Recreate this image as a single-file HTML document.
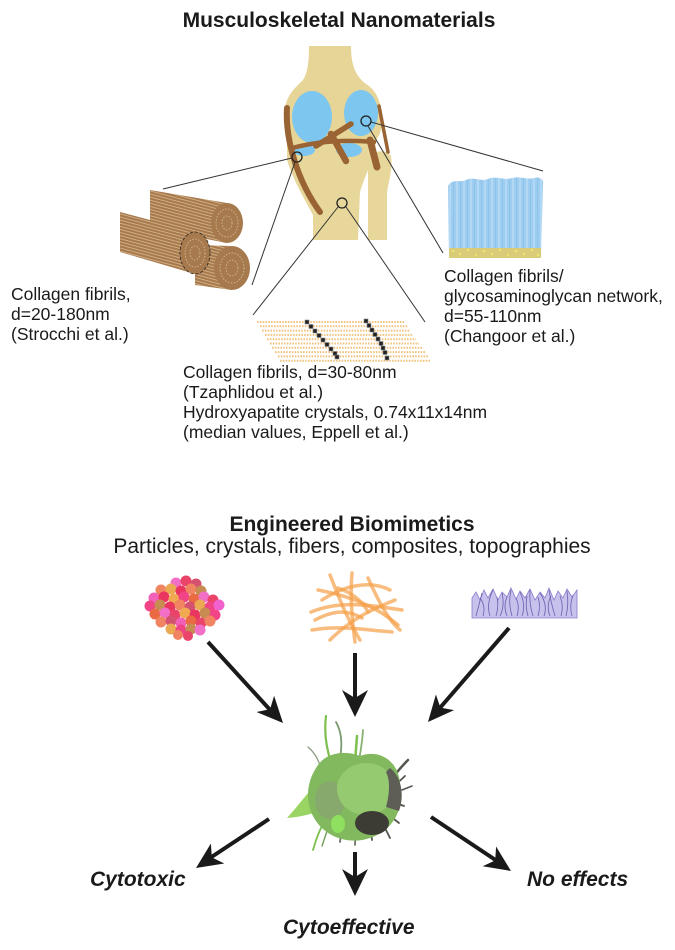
<!DOCTYPE html>
<html>
<head>
<meta charset="utf-8">
<style>
html,body{margin:0;padding:0;background:#fff;}
svg{display:block;}
text{font-family:"Liberation Sans",Arial,sans-serif;fill:#1a1a1a;}
.t{font-size:17.5px;}
.b{font-weight:bold;font-size:21px;}
.bi{font-weight:bold;font-style:italic;font-size:21px;}
</style>
</head>
<body>
<svg width="675" height="950" viewBox="0 0 675 950" xmlns="http://www.w3.org/2000/svg">
<defs>
  <pattern id="fib" patternUnits="userSpaceOnUse" width="12" height="3" patternTransform="rotate(15)">
    <rect width="12" height="3" fill="#a8794b"/>
    <line x1="0" y1="1.5" x2="12" y2="1.5" stroke="#d6bb95" stroke-width="0.8"/>
  </pattern>
  <pattern id="cart" patternUnits="userSpaceOnUse" width="7" height="10">
    <rect width="7" height="10" fill="#9dcdf0"/>
    <line x1="2" y1="0" x2="2" y2="10" stroke="#c2e0f7" stroke-width="1.2"/>
    <line x1="5.5" y1="0" x2="5.5" y2="10" stroke="#88bde3" stroke-width="0.6"/>
  </pattern>
</defs>

<!-- Title -->
<text class="b" x="339" y="27" text-anchor="middle">Musculoskeletal Nanomaterials</text>

<!-- Knee -->
<path d="M309,46 L351,46 C351,62 354,75 366,84 C380,92 384,112 381,130 C378,140 372,146 365,150 L300,152 C290,146 285,130 285,112 C285,96 295,88 303,80 C308,72 309,60 309,46 Z" fill="#e6d597"/>
<path d="M287,144 L376,142 C374,160 365,175 360,192 L358,240 L313,240 L313,215 C305,200 293,180 287,160 Z" fill="#e8d79b"/>
<path d="M368,162 C371,150 386,148 391,156 C393,168 389,180 387,192 L387,240 L368,240 Z" fill="#e8d79b"/>
<!-- blue cartilage -->
<ellipse cx="312" cy="117" rx="20" ry="26" fill="#7cc6f0"/>
<ellipse cx="361" cy="113" rx="17" ry="23" fill="#7cc6f0"/>
<ellipse cx="304" cy="150" rx="11" ry="6" fill="#7cc6f0"/>
<ellipse cx="349" cy="150" rx="13" ry="7" fill="#7cc6f0"/>
<!-- ligaments -->
<g fill="none" stroke="#9a6333" stroke-linecap="round">
  <path d="M287,108 C285,140 298,182 320,212" stroke-width="6"/>
  <path d="M292,148 Q330,138 374,142" stroke-width="4.5"/>
  <path d="M316,146 L351,124" stroke-width="5.5"/>
  <path d="M331,134 L346,161" stroke-width="6.5"/>
  <path d="M379,106 L388,152" stroke-width="3.5"/>
  <path d="M370,140 L377,167" stroke-width="7"/>
</g>
<!-- circles -->
<g fill="none" stroke="#222" stroke-width="1.3">
  <circle cx="297" cy="157" r="5"/>
  <circle cx="366" cy="121" r="5"/>
  <circle cx="342" cy="203" r="5"/>
</g>
<!-- connector lines -->
<g stroke="#333" stroke-width="1">
  <line x1="163" y1="189" x2="292" y2="158"/>
  <line x1="295" y1="162" x2="252" y2="285"/>
  <line x1="338" y1="207" x2="253" y2="315"/>
  <line x1="346" y1="207" x2="425" y2="322"/>
  <line x1="371" y1="122" x2="543" y2="171"/>
  <line x1="368" y1="126" x2="443" y2="253"/>
</g>

<!-- Fibril bundles -->
<g>
  <path d="M150,190 L227,203 L227,243 L150,228 Z" fill="url(#fib)"/>
  <ellipse cx="227" cy="223" rx="16" ry="20" fill="#a67a4c"/>
  <ellipse cx="227" cy="223" rx="11" ry="14" fill="none" stroke="#cfb38c" stroke-dasharray="1.5,1.5"/>
  <ellipse cx="227" cy="223" rx="5" ry="7" fill="none" stroke="#cfb38c" stroke-dasharray="1.5,1.5"/>
  <path d="M195,245 L232,246 L232,290 L195,285 Z" fill="url(#fib)"/>
  <ellipse cx="232" cy="268" rx="18" ry="22" fill="#a67a4c"/>
  <ellipse cx="232" cy="268" rx="12" ry="15" fill="none" stroke="#cfb38c" stroke-dasharray="1.5,1.5"/>
  <ellipse cx="232" cy="268" rx="6" ry="8" fill="none" stroke="#cfb38c" stroke-dasharray="1.5,1.5"/>
  <path d="M120,212 L195,232 L195,274 L120,252 Z" fill="url(#fib)"/>
  <ellipse cx="195" cy="253" rx="15" ry="21" fill="#a67a4c" stroke="#222" stroke-width="0.8" stroke-dasharray="3,2"/>
  <ellipse cx="195" cy="253" rx="10" ry="14" fill="none" stroke="#cfb38c" stroke-dasharray="1.5,1.5"/>
  <ellipse cx="195" cy="253" rx="5" ry="7" fill="none" stroke="#cfb38c" stroke-dasharray="1.5,1.5"/>
</g>

<!-- Cartilage image -->
<path d="M448,186 C452,178 460,183 466,180 C474,176 480,182 488,179 C496,175 504,181 512,178 C520,176 528,180 534,178 C540,176 544,180 543,184 L541,258 L449,258 Z" fill="url(#cart)"/>
<rect x="449" y="248" width="92" height="10" fill="#d8cc78"/>
<g fill="#f0e070">
  <circle cx="453" cy="251" r="1.3"/><circle cx="460" cy="254" r="1.3"/><circle cx="468" cy="250" r="1.3"/>
  <circle cx="476" cy="255" r="1.3"/><circle cx="484" cy="251" r="1.3"/><circle cx="492" cy="254" r="1.3"/>
  <circle cx="500" cy="250" r="1.3"/><circle cx="508" cy="255" r="1.3"/><circle cx="516" cy="251" r="1.3"/>
  <circle cx="524" cy="254" r="1.3"/><circle cx="532" cy="250" r="1.3"/><circle cx="538" cy="255" r="1.3"/>
</g>

<!-- Mineralized fibrils -->
<g stroke="#f2c37f" stroke-width="2" stroke-dasharray="1.6,1.2">
  <line x1="257" y1="322" x2="405" y2="322"/>
  <line x1="260" y1="326.3" x2="408" y2="326.3"/>
  <line x1="262" y1="330.6" x2="410" y2="330.6"/>
  <line x1="265" y1="334.9" x2="413" y2="334.9"/>
  <line x1="267" y1="339.2" x2="416" y2="339.2"/>
  <line x1="270" y1="343.5" x2="419" y2="343.5"/>
  <line x1="272" y1="347.8" x2="422" y2="347.8"/>
  <line x1="275" y1="352.1" x2="425" y2="352.1"/>
  <line x1="278" y1="356.4" x2="428" y2="356.4"/>
  <line x1="280" y1="360.7" x2="431" y2="360.7"/>
</g>
<g fill="#222" stroke="#888" stroke-width="0.6">
  <rect x="305" y="320" width="4" height="4"/><rect x="309" y="324.5" width="4" height="4"/>
  <rect x="313" y="329" width="4" height="4"/><rect x="317" y="333.5" width="4" height="4"/>
  <rect x="321" y="338" width="4" height="4"/><rect x="325" y="342.5" width="4" height="4"/>
  <rect x="329" y="347" width="4" height="4"/><rect x="333" y="351.5" width="4" height="4"/>
  <rect x="335" y="355" width="4" height="4"/>
  <rect x="364" y="319" width="4" height="4"/><rect x="367" y="323.5" width="4" height="4"/>
  <rect x="370" y="328" width="4" height="4"/><rect x="373" y="332.5" width="4" height="4"/>
  <rect x="376" y="337" width="4" height="4"/><rect x="379" y="341.5" width="4" height="4"/>
  <rect x="381" y="346" width="4" height="4"/><rect x="383" y="350.5" width="4" height="4"/>
  <rect x="385" y="356" width="4" height="4"/>
</g>

<!-- Top labels -->
<text class="t" x="11" y="300">Collagen fibrils,</text>
<text class="t" x="11" y="320">d=20-180nm</text>
<text class="t" x="11" y="340">(Strocchi et al.)</text>

<text class="t" x="444" y="282">Collagen fibrils/</text>
<text class="t" x="444" y="302">glycosaminoglycan network,</text>
<text class="t" x="444" y="322">d=55-110nm</text>
<text class="t" x="444" y="342">(Changoor et al.)</text>

<text class="t" x="183" y="378">Collagen fibrils, d=30-80nm</text>
<text class="t" x="183" y="398">(Tzaphlidou et al.)</text>
<text class="t" x="183" y="418">Hydroxyapatite crystals, 0.74x11x14nm</text>
<text class="t" x="183" y="438">(median values, Eppell et al.)</text>

<!-- Bottom titles -->
<text class="b" x="352" y="531" text-anchor="middle">Engineered Biomimetics</text>
<text x="352" y="553" text-anchor="middle" style="font-size:21px;">Particles, crystals, fibers, composites, topographies</text>

<!-- Particles -->
<g opacity="0.9">
  <circle cx="176" cy="583" r="5.5" fill="#f060c0"/><circle cx="186" cy="581" r="5.5" fill="#e8305a"/><circle cx="196" cy="584" r="5.5" fill="#d04060"/>
  <circle cx="161" cy="590" r="5.5" fill="#f07850"/><circle cx="171" cy="589" r="5.5" fill="#e8a040"/><circle cx="181" cy="591" r="5.5" fill="#e82050"/><circle cx="191" cy="589" r="5.5" fill="#f07850"/><circle cx="201" cy="591" r="5.5" fill="#c08040"/>
  <circle cx="154" cy="598" r="5.5" fill="#f050b0"/><circle cx="164" cy="597" r="5.5" fill="#e82050"/><circle cx="174" cy="599" r="5.5" fill="#f0a040"/><circle cx="184" cy="597" r="5.5" fill="#f0307a"/><circle cx="194" cy="599" r="5.5" fill="#e85a30"/><circle cx="204" cy="597" r="5.5" fill="#f060c0"/><circle cx="213" cy="600" r="5.5" fill="#e8305a"/>
  <circle cx="150" cy="606" r="5.5" fill="#f0307a"/><circle cx="160" cy="605" r="5.5" fill="#c08040"/><circle cx="170" cy="607" r="5.5" fill="#e82050"/><circle cx="180" cy="605" r="5.5" fill="#f07850"/><circle cx="190" cy="607" r="5.5" fill="#d04060"/><circle cx="200" cy="605" r="5.5" fill="#e8a040"/><circle cx="210" cy="607" r="5.5" fill="#f0307a"/><circle cx="219" cy="605" r="5.5" fill="#f050c8"/>
  <circle cx="155" cy="614" r="5.5" fill="#e85a30"/><circle cx="165" cy="613" r="5.5" fill="#f060c0"/><circle cx="175" cy="615" r="5.5" fill="#e8305a"/><circle cx="185" cy="613" r="5.5" fill="#f0a040"/><circle cx="195" cy="615" r="5.5" fill="#e82050"/><circle cx="205" cy="613" r="5.5" fill="#c08040"/><circle cx="215" cy="615" r="5.5" fill="#f0307a"/>
  <circle cx="161" cy="622" r="5.5" fill="#f07850"/><circle cx="171" cy="621" r="5.5" fill="#d04060"/><circle cx="181" cy="623" r="5.5" fill="#f050b0"/><circle cx="191" cy="621" r="5.5" fill="#e85a30"/><circle cx="201" cy="623" r="5.5" fill="#e8305a"/><circle cx="210" cy="621" r="5.5" fill="#f07850"/>
  <circle cx="171" cy="629" r="5.5" fill="#e8a040"/><circle cx="181" cy="630" r="5.5" fill="#f0307a"/><circle cx="191" cy="629" r="5.5" fill="#c08040"/><circle cx="200" cy="630" r="5.5" fill="#f060c0"/>
  <circle cx="178" cy="635" r="5" fill="#f07850"/><circle cx="188" cy="636" r="5" fill="#e8305a"/>
</g>

<!-- Fibers -->
<g fill="none" stroke="#f5a048" stroke-width="3.5" stroke-opacity="0.7" stroke-linecap="round">
  <path d="M311,612 C340,600 370,605 402,610"/>
  <path d="M318,590 C345,595 375,605 398,625"/>
  <path d="M330,575 C338,595 345,615 360,640"/>
  <path d="M352,573 C350,595 352,620 355,642"/>
  <path d="M368,578 C378,600 388,620 400,630"/>
  <path d="M312,630 C340,625 365,630 392,632"/>
  <path d="M322,600 C345,585 370,580 390,590"/>
  <path d="M330,640 C350,620 370,610 395,600"/>
  <path d="M338,588 C350,592 362,600 368,612"/>
  <path d="M315,620 C330,612 345,608 362,618"/>
</g>

<!-- Topography -->
<path d="M472,618 L472,598 L476,592 L480,600 L484,590 L488,598 L493,589 L498,600 L502,592 L507,597 L511,588 L516,599 L520,591 L525,598 L530,589 L535,600 L540,592 L545,598 L549,588 L554,600 L558,591 L563,598 L567,589 L572,597 L577,590 L577,618 Z" fill="#c6c2ec" stroke="#8a7cc8" stroke-width="0.8"/>
<g fill="none" stroke="#6c5cb0" stroke-width="0.8">
  <path d="M476,616 Q479,605 482,593"/><path d="M483,616 Q486,606 480,598"/>
  <path d="M490,616 Q486,604 493,590"/><path d="M496,616 Q499,606 497,597"/>
  <path d="M500,616 Q505,606 502,593"/><path d="M507,616 Q503,606 507,597"/>
  <path d="M512,616 Q508,602 511,590"/><path d="M517,616 Q520,606 516,598"/>
  <path d="M522,616 Q526,605 520,592"/><path d="M528,616 Q525,606 527,596"/>
  <path d="M533,616 Q529,604 530,590"/><path d="M538,616 Q541,606 538,597"/>
  <path d="M544,616 Q548,605 540,593"/><path d="M550,616 Q546,606 551,596"/>
  <path d="M555,616 Q551,603 549,590"/><path d="M561,616 Q564,606 560,596"/>
  <path d="M566,616 Q569,604 567,591"/><path d="M572,616 Q569,606 573,595"/>
</g>

<!-- Arrows -->
<g stroke="#1a1a1a" stroke-width="4" fill="none">
  <line x1="208" y1="642" x2="272" y2="712"/>
  <line x1="355" y1="653" x2="355" y2="700"/>
  <line x1="509" y1="628" x2="439" y2="709"/>
  <line x1="269" y1="819" x2="210" y2="858"/>
  <line x1="355" y1="852" x2="355" y2="879"/>
  <line x1="431" y1="817" x2="497" y2="861"/>
</g>
<g fill="#1a1a1a">
  <polygon points="283,723 256.5,712 270.1,709.1 274.1,695.8"/>
  <polygon points="355,717 342,690 355,698 368,690"/>
  <polygon points="428,722 435.9,694.5 440.4,707.6 454.1,710.1"/>
  <polygon points="196,868 210.9,843.5 211.8,857.4 224.3,863.5"/>
  <polygon points="355,896 342,869 355,877 368,869"/>
  <polygon points="511,871 482.7,866.3 495.2,860.4 496.1,846.5"/>
</g>

<!-- Cell -->
<g fill="none" stroke-linecap="round">
  <path d="M326,716 Q323,740 332,765" stroke="#7cc050" stroke-width="2.2"/>
  <path d="M336,722 Q344,736 340,758" stroke="#7a9a70" stroke-width="1.8"/>
  <path d="M357,736 L355,762" stroke="#7cc050" stroke-width="2.5"/>
  <path d="M363,730 Q362,746 358,765" stroke="#86b070" stroke-width="1.8"/>
  <path d="M308,747 Q318,755 322,772" stroke="#8a9a80" stroke-width="1.3"/>
  <path d="M408,760 Q398,770 388,784" stroke="#55554e" stroke-width="2.5"/>
  <path d="M405,776 L390,790" stroke="#55554e" stroke-width="1.8"/>
  <path d="M404,806 L388,800" stroke="#55554e" stroke-width="1.8"/>
  <path d="M313,850 Q318,832 326,818" stroke="#7cc050" stroke-width="1.8"/>
  <path d="M322,846 L330,822" stroke="#6a9a50" stroke-width="1.3"/>
  <path d="M340,842 L343,820" stroke="#707068" stroke-width="1.8"/>
  <path d="M355,845 L356,825" stroke="#707068" stroke-width="1.8"/>
  <path d="M372,840 L370,820" stroke="#55554e" stroke-width="1.8"/>
  <path d="M390,838 L380,818" stroke="#55554e" stroke-width="1.8"/>
  <path d="M399,823 L385,812" stroke="#55554e" stroke-width="1.8"/>
  <path d="M402,790 L412,786" stroke="#55554e" stroke-width="1.5"/>
</g>
<path d="M287,818 C298,806 308,792 320,780 L334,800 C326,810 310,816 287,818 Z" fill="#9ad462"/>
<path d="M316,768 C325,752 345,750 360,756 C382,748 402,764 400,790 C404,812 390,832 370,838 C350,845 324,838 313,816 C305,800 307,782 316,768 Z" fill="#82b95e"/>
<ellipse cx="330" cy="800" rx="15" ry="19" fill="#8c9c7a" opacity="0.55"/>
<ellipse cx="366" cy="789" rx="29" ry="26" fill="#96ca70"/>
<path d="M390,768 C401,776 405,795 399,811 L386,807 C390,792 390,780 386,772 Z" fill="#5e5e56"/>
<ellipse cx="372" cy="823" rx="17" ry="12" fill="#3c3c34"/>
<ellipse cx="338" cy="824" rx="7" ry="9" fill="#8fe060"/>

<!-- Outcome labels -->
<text class="bi" x="90" y="886">Cytotoxic</text>
<text class="bi" x="283" y="934">Cytoeffective</text>
<text class="bi" x="527" y="886">No effects</text>
</svg>
</body>
</html>
